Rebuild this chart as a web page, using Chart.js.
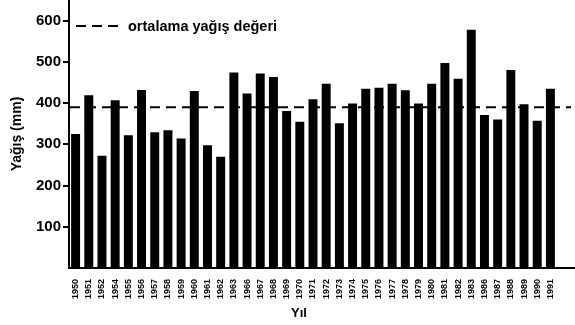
<!DOCTYPE html>
<html>
<head>
<meta charset="utf-8">
<script src="https://cdn.jsdelivr.net/npm/chart.js@4.4.1/dist/chart.umd.min.js"></script>
<style>
  html, body { margin: 0; padding: 0; background: #fff; }
  #wrap { width: 575px; height: 325px; }
</style>
</head>
<body>
<div id="wrap"><canvas id="c" width="575" height="325"></canvas></div>
<script>
// Annual precipitation per year (mm)
const years = ['1950','1951','1952','1954','1955','1956','1957','1958','1959','1960','1961','1962','1963',
  '1966','1967','1968','1969','1970','1971','1972','1973','1974','1975','1976','1977','1978','1979','1980',
  '1981','1982','1983','1986','1987','1988','1989','1990','1991'];
const rainfall = [325, 419, 272, 407, 322, 432, 329, 334, 314, 429, 298, 270, 474,
  423, 472, 463, 381, 355, 409, 447, 351, 399, 435, 437, 447, 431, 399, 447,
  497, 459, 578, 371, 360, 480, 397, 357, 435];
const meanRainfall = 390;
const yTickValues = [100, 200, 300, 400, 500, 600];

const FONT = 'Liberation Sans, Arial, Helvetica, sans-serif';
const INK = '#000';

// Mean line, x-axis extension, legend entry and x-axis title
const overlay = {
  id: 'overlay',
  afterDraw(chart) {
    const { ctx, chartArea, scales: { y } } = chart;
    const py = y.getPixelForValue(meanRainfall);
    ctx.save();
    ctx.strokeStyle = INK;
    ctx.lineWidth = 2;

    // mean precipitation, dashed
    ctx.setLineDash([10, 6]);
    ctx.beginPath();
    ctx.moveTo(chartArea.left + 1, py);
    ctx.lineTo(chart.width - 4, py);
    ctx.stroke();

    // axis line continues to the right edge
    ctx.setLineDash([]);
    ctx.beginPath();
    ctx.moveTo(chartArea.right - 1, chartArea.bottom);
    ctx.lineTo(chart.width, chartArea.bottom);
    ctx.stroke();

    // legend entry
    ctx.setLineDash([10, 6]);
    ctx.beginPath();
    ctx.moveTo(76, 26);
    ctx.lineTo(120, 26);
    ctx.stroke();
    ctx.setLineDash([]);
    ctx.fillStyle = INK;
    ctx.font = 'bold 14.5px ' + FONT;
    ctx.textAlign = 'left';
    ctx.textBaseline = 'middle';
    ctx.fillText('ortalama yağış değeri', 128, 27);

    // x-axis title
    ctx.font = 'bold 13px ' + FONT;
    ctx.textAlign = 'center';
    ctx.fillText('Yıl', 299, 313);
    ctx.restore();
  }
};

new Chart(document.getElementById('c'), {
  type: 'bar',
  data: {
    labels: years,
    datasets: [{
      label: 'Yağış',
      data: rainfall,
      backgroundColor: INK,
      borderWidth: 0,
      barPercentage: 0.68,
      categoryPercentage: 1.0
    }]
  },
  options: {
    responsive: false,
    animation: false,
    layout: { padding: { top: 0, right: 18, left: 0, bottom: 0 } },
    plugins: {
      legend: { display: false },
      tooltip: { enabled: false }
    },
    scales: {
      x: {
        afterFit: s => { s.height = 57; },
        grid: { display: false },
        border: { display: true, color: INK, width: 2 },
        ticks: {
          autoSkip: false, maxRotation: 90, minRotation: 90,
          color: INK, padding: 3,
          font: { family: FONT, size: 9, weight: 'bold' }
        }
      },
      y: {
        min: 0,
        max: 650,
        afterBuildTicks: s => { s.ticks = yTickValues.map(v => ({ value: v })); },
        afterFit: s => { s.width = 69; s.paddingTop = 0; s.paddingBottom = 0; },
        grid: { drawOnChartArea: false, drawTicks: true, tickLength: 6, color: INK, lineWidth: 2 },
        border: { display: true, color: INK, width: 2 },
        ticks: {
          color: INK, padding: 2,
          font: { family: FONT, size: 15, weight: 'bold' }
        },
        title: {
          display: true, text: 'Yağış (mm)', color: INK,
          padding: { top: 9, bottom: 0 },
          font: { family: FONT, size: 14, weight: 'bold' }
        }
      }
    }
  },
  plugins: [overlay]
});
</script>
</body>
</html>
